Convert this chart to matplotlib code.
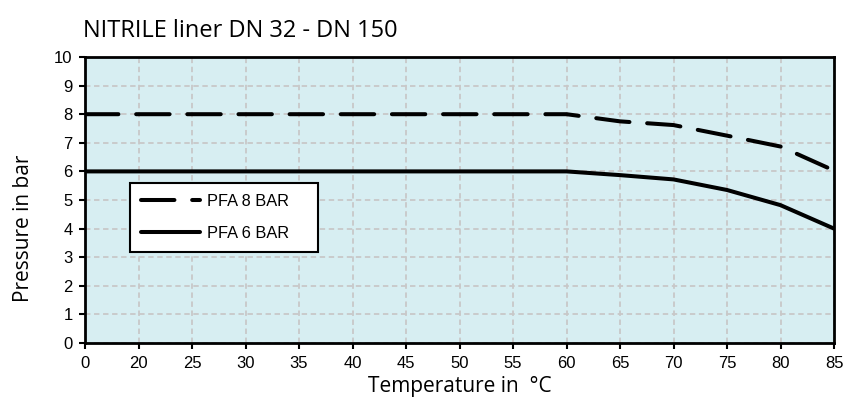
import matplotlib.pyplot as plt

# temperature categories (equally spaced on the chart)
temps = ["0", "20", "25", "30", "35", "40", "45", "50", "55", "60", "65", "70", "75", "80", "85"]
pfa8 = [8, 8, 8, 8, 8, 8, 8, 8, 8, 8, 7.75, 7.62, 7.25, 6.87, 6.03]
pfa6 = [6, 6, 6, 6, 6, 6, 6, 6, 6, 6, 5.87, 5.72, 5.35, 4.82, 4.0]
yticks = list(range(0, 11))

fig = plt.figure(figsize=(8.46, 4.03), dpi=100)
ax = fig.add_axes([85 / 846, 1 - 343 / 403, 749 / 846, 286 / 403])
ax.set_facecolor("#d7eef2")

x = list(range(len(temps)))
ax.plot(x, pfa8, color="black", lw=2.9, dashes=(8.3, 4.4), dash_capstyle="round",
        label="PFA 8 BAR", zorder=3)
ax.plot(x, pfa6, color="black", lw=2.9, solid_capstyle="round", label="PFA 6 BAR", zorder=3)

ax.set_xlim(0, len(temps) - 1)
ax.set_ylim(0, 10)
ax.set_xticks(x)
ax.set_xticklabels(temps, family="Liberation Sans", fontsize=12)
ax.set_yticks(yticks)
ax.set_yticklabels([str(v) for v in yticks], family="Liberation Sans", fontsize=12)
ax.tick_params(direction="out", length=4, width=1.5, color="black", pad=5)

ax.grid(True, color="#c8c8c8", ls=(0, (3, 2)), lw=1.3)
ax.set_axisbelow(True)
for s in ax.spines.values():
    s.set_linewidth(2)
    s.set_color("black")

ax.set_xlabel("Temperature in  \u00b0C", family="Open Sans", fontsize=15, labelpad=4)
ax.set_ylabel("Pressure in bar", family="Open Sans", fontsize=15)
ax.yaxis.set_label_coords(-0.068, 0.40)
fig.text(83 / 846, 1 - 31 / 403, "NITRILE liner DN 32 - DN 150", family="Open Sans",
         fontsize=17, va="center", ha="left")

leg = ax.legend(loc="lower left", bbox_to_anchor=(0.06, 0.318, 0.251, 0.241), mode="expand",
                borderaxespad=0, fancybox=False, framealpha=1, edgecolor="black",
                facecolor="white", prop={"family": "Liberation Sans", "size": 11.8},
                handlelength=3.6, handletextpad=0.45, borderpad=0.68, labelspacing=1.05)
leg.get_frame().set_linewidth(1.5)

fig.savefig("out.png", dpi=100)
